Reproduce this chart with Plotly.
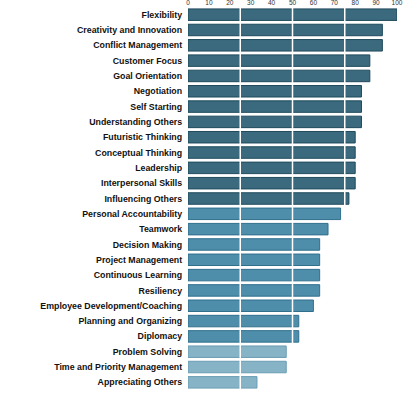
import plotly.graph_objects as go

categories = ["Flexibility", "Creativity and Innovation", "Conflict Management", "Customer Focus",
              "Goal Orientation", "Negotiation", "Self Starting", "Understanding Others",
              "Futuristic Thinking", "Conceptual Thinking", "Leadership", "Interpersonal Skills",
              "Influencing Others", "Personal Accountability", "Teamwork", "Decision Making",
              "Project Management", "Continuous Learning", "Resiliency",
              "Employee Development/Coaching", "Planning and Organizing", "Diplomacy",
              "Problem Solving", "Time and Priority Management", "Appreciating Others"]
values = [100, 93, 93, 87, 87, 83, 83, 83, 80, 80, 80, 80, 77, 73, 67, 63, 63, 63, 63, 60, 53, 53, 47, 47, 33]
tick_values = [0, 10, 20, 30, 40, 50, 60, 70, 80, 90, 100]
grid_values = [25, 50, 75]

def color_for(v):
    if v >= 75:
        return "#3b6a7e"
    if v >= 50:
        return "#4f8eab"
    return "#86b3c6"

def line_for(v):
    if v >= 75:
        return "#1f4a5c"
    if v >= 50:
        return "#2f6f8c"
    return "#6a9db3"

fig = go.Figure(go.Bar(
    x=values, y=categories, orientation="h",
    marker=dict(color=[color_for(v) for v in values],
                line=dict(color=[line_for(v) for v in values], width=1)),
    hoverinfo="x+y",
))

for g in grid_values:
    fig.add_shape(type="line", x0=g, x1=g, y0=0, y1=1, xref="x", yref="paper",
                  line=dict(color="white", width=1.5), layer="above")

fig.update_layout(
    width=409, height=395,
    margin=dict(l=188, r=12, t=7, b=5),
    plot_bgcolor="white", paper_bgcolor="white",
    bargap=0.25, showlegend=False,
    font=dict(family="Liberation Sans, Arial, sans-serif"),
    xaxis=dict(side="top", range=[0, 100], tickvals=tick_values, showgrid=False,
               zeroline=False, showline=False, ticks="", tickfont=dict(size=6.5, color="#333"),
               ticklen=0, automargin=False),
    yaxis=dict(autorange="reversed", showgrid=False, zeroline=False, showline=False,
               ticks="", ticksuffix="  ", automargin=False,
               tickfont=dict(size=8.8, color="#111", family="Liberation Sans, Arial, sans-serif",
                             weight="bold")),
)

fig.write_html("out.html", config={"displayModeBar": False},
               post_script="document.body.style.margin='0';document.body.style.overflow='hidden';")
